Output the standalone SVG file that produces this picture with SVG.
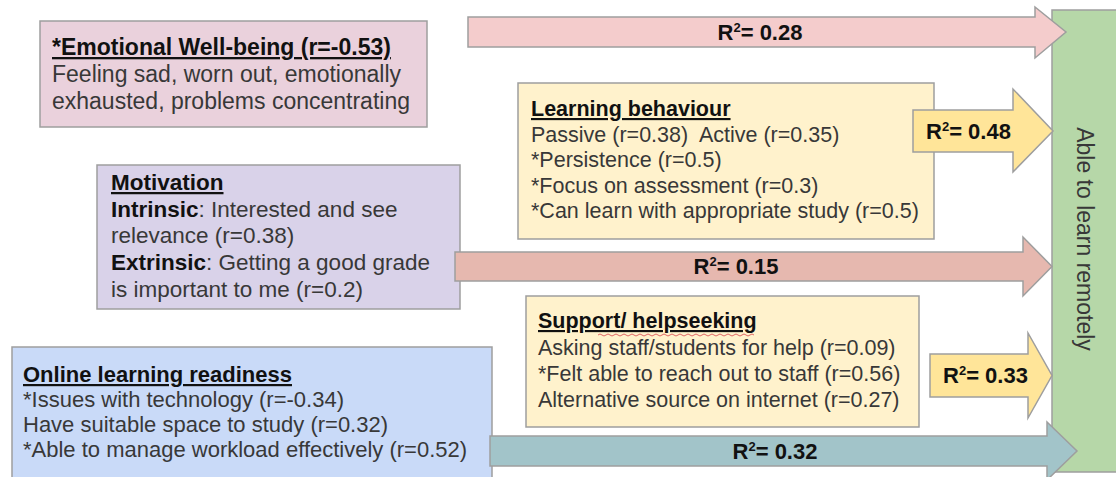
<svg xmlns="http://www.w3.org/2000/svg" width="1116" height="477" viewBox="0 0 1116 477">
<style>
text{font-family:"Liberation Sans",Arial,sans-serif;}
.box{stroke:#9e9e9e;stroke-width:1.5;}
.arr{stroke:#9e9e9e;stroke-width:1.5;stroke-linejoin:miter;}
.t{fill:#383838;}
.h{fill:#111;font-weight:bold;text-decoration:underline;}
.b{fill:#111;font-weight:bold;}
.r{fill:#111;font-weight:bold;font-size:22px;}
</style>
<rect width="1116" height="477" fill="#ffffff"/>
<g id="outcome">
<rect class="box" x="1052" y="10" width="70" height="462" fill="#b6d7a8"/>
<text class="t" font-size="23" text-anchor="middle" transform="translate(1077,239) rotate(90)">Able to learn remotely</text>
</g>
<g id="emotional">
<rect class="box" x="40" y="21" width="387" height="106" fill="#ead1dc"/>
<text class="h" x="52" y="55" font-size="23">*Emotional Well-being (r=-0.53)</text>
<text class="t" x="52" y="82" font-size="23">Feeling sad, worn out, emotionally</text>
<text class="t" x="52" y="109" font-size="23">exhausted, problems concentrating</text>
</g>
<g id="learning">
<rect class="box" x="518" y="83" width="416" height="156" fill="#fff2cc"/>
<text class="h" x="531" y="116" font-size="21.5">Learning behaviour</text>
<text class="t" x="531" y="142" font-size="21.5" xml:space="preserve">Passive (r=0.38)  Active (r=0.35)</text>
<text class="t" x="531" y="167" font-size="21.5">*Persistence (r=0.5)</text>
<text class="t" x="531" y="193" font-size="21.5">*Focus on assessment (r=0.3)</text>
<text class="t" x="531" y="218" font-size="21.5">*Can learn with appropriate study (r=0.5)</text>
</g>
<g id="motivation">
<rect class="box" x="97" y="165" width="363" height="144" fill="#d9d2e9"/>
<text class="h" x="111" y="190" font-size="22.5">Motivation</text>
<text class="t" x="111" y="217" font-size="22.5"><tspan class="b">Intrinsic</tspan>: Interested and see</text>
<text class="t" x="111" y="243" font-size="22.5">relevance (r=0.38)</text>
<text class="t" x="111" y="270" font-size="22.5"><tspan class="b">Extrinsic</tspan>: Getting a good grade</text>
<text class="t" x="111" y="297" font-size="22.5">is important to me (r=0.2)</text>
</g>
<g id="support">
<rect class="box" x="526" y="296" width="393" height="131" fill="#fff2cc"/>
<text class="h" x="538" y="328" font-size="21.5">Support/ helpseeking</text>
<path d="M598,335 q2,-2 4,0 t4,0 t4,0 t4,0 t4,0 t4,0 t4,0 t4,0 t4,0 t4,0 t4,0 t4,0 t4,0 t4,0 t4,0 t4,0 t4,0 t4,0 t4,0 t4,0 t4,0 t4,0 t4,0 t4,0 t4,0 t4,0 t4,0 t4,0 t4,0 t4,0 t4,0 t4,0 t4,0 t4,0 t4,0 t4,0 t4,0 t4,0 t4,0" fill="none" stroke="#e06666" stroke-width="1"/>
<text class="t" x="538" y="355" font-size="21.5">Asking staff/students for help (r=0.09)</text>
<text class="t" x="538" y="381" font-size="21.5">*Felt able to reach out to staff (r=0.56)</text>
<text class="t" x="538" y="407" font-size="21.5">Alternative source on internet (r=0.27)</text>
</g>
<g id="readiness">
<rect class="box" x="12" y="347" width="480" height="135" fill="#c9daf8"/>
<text class="h" x="23" y="382" font-size="22">Online learning readiness</text>
<text class="t" x="23" y="407" font-size="22">*Issues with technology (r=-0.34)</text>
<text class="t" x="23" y="432" font-size="22">Have suitable space to study (r=0.32)</text>
<text class="t" x="23" y="457" font-size="22">*Able to manage workload effectively (r=0.52)</text>
</g>
<g id="connectors">
<polygon class="arr" fill="#f4cccc" points="468,17 1035,17 1035,7 1066,32 1035,58 1035,47 468,47"/>
<text class="r" x="760" y="40" text-anchor="middle">R<tspan font-size="13" dy="-8">2</tspan><tspan dy="8">= 0.28</tspan></text>
<polygon class="arr" fill="#ffe599" points="913,110 1013,110 1013,89 1053,131 1013,172 1013,152 913,152"/>
<text class="r" x="926" y="139">R<tspan font-size="13" dy="-8">2</tspan><tspan dy="8">= 0.48</tspan></text>
<polygon class="arr" fill="#e6b8af" points="455,252 1023,252 1023,237 1052,266.5 1023,296 1023,281 455,281"/>
<text class="r" x="736" y="274" text-anchor="middle">R<tspan font-size="13" dy="-8">2</tspan><tspan dy="8">= 0.15</tspan></text>
<polygon class="arr" fill="#ffe599" points="930,354 1028,354 1028,333 1052,375.5 1028,418 1028,397 930,397"/>
<text class="r" x="943" y="383">R<tspan font-size="13" dy="-8">2</tspan><tspan dy="8">= 0.33</tspan></text>
<polygon class="arr" fill="#a2c4c9" points="490,436 1047,436 1047,422 1077,451 1047,480 1047,466 490,466"/>
<text class="r" x="775" y="459" text-anchor="middle">R<tspan font-size="13" dy="-8">2</tspan><tspan dy="8">= 0.32</tspan></text>
</g>
</svg>
